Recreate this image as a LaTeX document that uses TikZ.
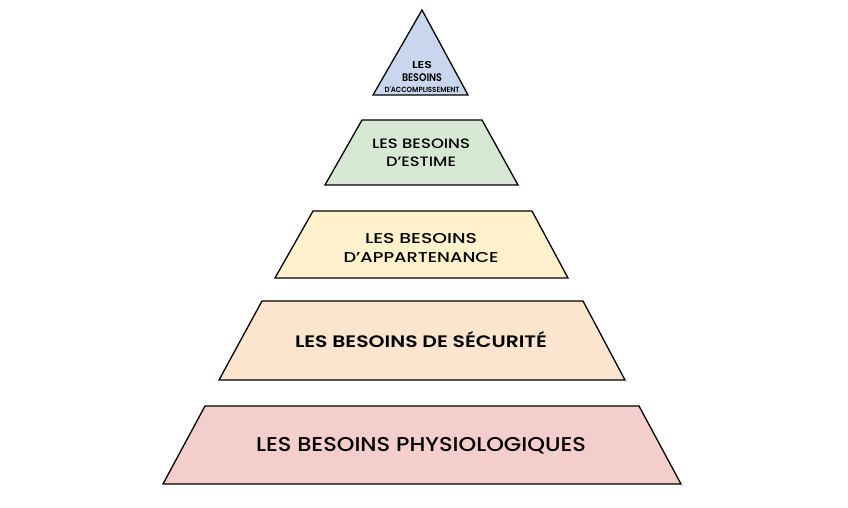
\documentclass[tikz,border=0pt]{standalone}
\usepackage{graphicx}
\usepackage{fontspec}
\setmainfont{Poppins Medium}
\newfontfamily\psemi{Poppins SemiBold}
\newcommand{\fitw}[2]{\resizebox{#1}{\height}{#2}}
\definecolor{blueT}{RGB}{201,214,237}
\definecolor{greenT}{RGB}{214,232,212}
\definecolor{yellowT}{RGB}{255,241,203}
\definecolor{peachT}{RGB}{252,229,206}
\definecolor{pinkT}{RGB}{244,205,205}
\begin{document}
\begin{tikzpicture}[x=1pt,y=-1pt]
\tikzset{
  tier/.style={draw=black, line width=1.3pt, line join=miter},
  lbl/.style={anchor=base, inner sep=0pt, text=black},
}
\useasboundingbox (0,0) rectangle (848,508);
% tiers
\filldraw[tier, fill=blueT] (422,10) -- (468,95) -- (373,95) -- cycle;
\filldraw[tier, fill=greenT] (362,120) -- (482,120) -- (518,185) -- (325,185) -- cycle;
\filldraw[tier, fill=yellowT] (313,211) -- (532,211) -- (568,278) -- (275,278) -- cycle;
\filldraw[tier, fill=peachT] (262,301) -- (583,301) -- (625,380) -- (219,380) -- cycle;
\filldraw[tier, fill=pinkT] (205,406) -- (639,406) -- (681,484) -- (163,484) -- cycle;
% labels
\node[lbl, font=\psemi\fontsize{10}{12}\selectfont] (accompA) at (422,69) {\fitw{20pt}{LES}};
\node[lbl, font=\psemi\fontsize{11}{12}\selectfont] (accompB) at (422,82) {\fitw{40pt}{BESOINS}};
\node[lbl, font=\psemi\fontsize{7.5}{8}\selectfont] (accompC) at (422,92.3) {\fitw{75pt}{D'ACCOMPLISSEMENT}};
\node[lbl, font=\fontsize{13.6}{16}\selectfont] (estimeA) at (421,149) {\fitw{98pt}{LES BESOINS}};
\node[lbl, font=\fontsize{13.6}{16}\selectfont] (estimeB) at (421,166) {\fitw{70pt}{D'ESTIME}};
\node[lbl, font=\fontsize{14.3}{16}\selectfont] (appartA) at (421,243) {\fitw{112pt}{LES BESOINS}};
\node[lbl, font=\fontsize{14.3}{16}\selectfont] (appartB) at (421,262) {\fitw{155pt}{D'APPARTENANCE}};
\node[lbl, font=\psemi\fontsize{16.6}{20}\selectfont] (secur) at (421,347.3) {\fitw{252pt}{LES BESOINS DE SÉCURITÉ}};
\node[lbl, font=\fontsize{20}{24}\selectfont] (physio) at (421,451.7) {\fitw{330pt}{LES BESOINS PHYSIOLOGIQUES}};
\end{tikzpicture}
\end{document}
